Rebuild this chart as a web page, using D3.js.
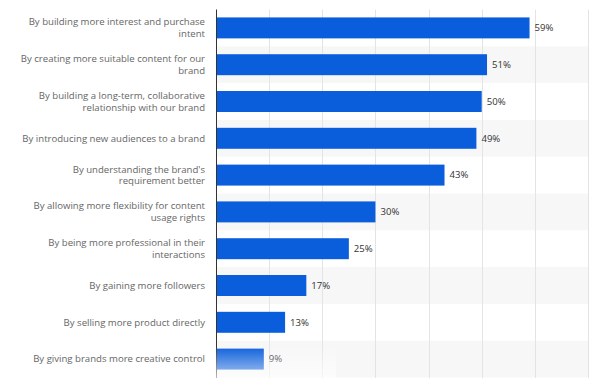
<!DOCTYPE html>
<html><head><meta charset="utf-8">
<script src="https://cdn.jsdelivr.net/npm/d3@7"></script>
<style>html,body{margin:0;padding:0;background:#fff;}svg{display:block;}</style>
</head><body>
<svg id="chart" width="602" height="378"></svg>
<script>
const categories = [
  "By building more interest and purchase intent",
  "By creating more suitable content for our brand",
  "By building a long-term, collaborative relationship with our brand",
  "By introducing new audiences to a brand",
  "By understanding the brand's requirement better",
  "By allowing more flexibility for content usage rights",
  "By being more professional in their interactions",
  "By gaining more followers",
  "By selling more product directly",
  "By giving brands more creative control"
];
const values = [59, 51, 50, 49, 43, 30, 25, 17, 13, 9];
const xTicks = [0, 10, 20, 30, 40, 50, 60, 70];

const svg = d3.select("#chart");
const W = 602, H = 378;
const m = {left: 216, right: 14, top: 9.5, bottom: 0};
const x = d3.scaleLinear().domain([0, 70]).range([m.left, 588]);
const y = d3.scaleBand().domain(categories).range([m.top, 377.5]).paddingInner(0.43).paddingOuter(0.215);
const step = y.step();

const font = "'Open Sans', sans-serif";

// alternating row backgrounds
svg.append("g").selectAll("rect").data(categories.filter((d, i) => i % 2 === 1)).join("rect")
  .attr("x", x(0)).attr("width", x(70) - x(0))
  .attr("y", d => y(d) - (step - y.bandwidth()) / 2).attr("height", step)
  .attr("fill", "#f7f7f7");

// grid
svg.append("g").selectAll("line").data(xTicks.slice(1)).join("line")
  .attr("x1", d => Math.round(x(d)) + 0.5).attr("x2", d => Math.round(x(d)) + 0.5)
  .attr("y1", m.top).attr("y2", H)
  .attr("stroke", "#e4e4e4").attr("stroke-width", 1);

// bars
svg.append("g").selectAll("rect").data(values).join("rect")
  .attr("x", x(0)).attr("y", (d, i) => y(categories[i]))
  .attr("width", d => x(d) - x(0)).attr("height", y.bandwidth())
  .attr("fill", "#0b5edb");

// value labels
svg.append("g").selectAll("text").data(values).join("text")
  .attr("x", d => x(d) + 5).attr("y", (d, i) => y(categories[i]) + y.bandwidth() / 2)
  .attr("dy", "0.35em")
  .attr("font-family", font).attr("font-size", 9.6).attr("fill", "#333")
  .text(d => d + "%");

// axis line
svg.append("line").attr("x1", x(0) + 0.5).attr("x2", x(0) + 0.5).attr("y1", m.top).attr("y2", H)
  .attr("stroke", "#333").attr("stroke-width", 1);

// category labels with wrapping
const maxW = 190, lh = 11.6;
const lab = svg.append("g");
categories.forEach((c, i) => {
  const t = lab.append("text").attr("text-anchor", "end")
    .attr("font-family", font).attr("font-size", 9.6).attr("fill", "#666");
  const words = c.split(" ");
  const lines = [];
  let cur = [];
  const probe = t.append("tspan");
  words.forEach(w => {
    const test = cur.concat(w).join(" ");
    probe.text(test);
    if (probe.node().getComputedTextLength() > maxW && cur.length) {
      lines.push(cur.join(" ")); cur = [w];
    } else cur.push(w);
  });
  lines.push(cur.join(" "));
  probe.remove();
  const cy = y(c) + y.bandwidth() / 2;
  lines.forEach((l, k) => {
    t.append("tspan").attr("x", 205).attr("y", cy + (k - (lines.length - 1) / 2) * lh)
      .attr("dy", "0.35em").text(l);
  });
});

// bottom fade
const defs = svg.append("defs");
const g = defs.append("linearGradient").attr("id", "fade").attr("x1", 0).attr("x2", 0).attr("y1", 0).attr("y2", 1);
g.append("stop").attr("offset", "0%").attr("stop-color", "#fff").attr("stop-opacity", 0);
g.append("stop").attr("offset", "100%").attr("stop-color", "#fff").attr("stop-opacity", 0.65);
svg.append("rect").attr("x", x(0)).attr("y", 346).attr("width", 120).attr("height", H - 346)
  .attr("fill", "url(#fade)");
</script>
</body></html>
